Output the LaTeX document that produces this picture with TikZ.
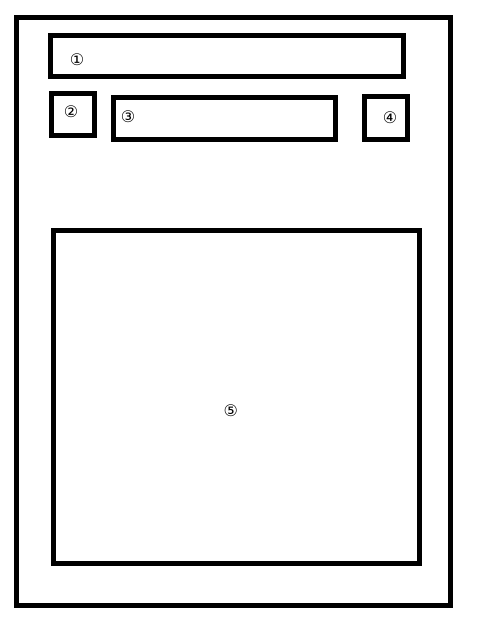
\documentclass[tikz,border=0pt]{standalone}
\usepackage{fontspec}
\newfontfamily\circfont{DejaVu Sans}
\tikzset{
    panel/.style={draw=black,line width=5pt},
    num/.style={font=\circfont\fontsize{16pt}{16pt}\selectfont,inner sep=0pt}
}

\begin{document}
\begin{tikzpicture}[x=1pt,y=-1pt]
        \useasboundingbox[fill=white] (0,0) rectangle (491,626);
        \draw[panel] (16.5,17.5) rectangle (450,605);
        \draw[panel] (50,36) rectangle (403,76.5);
        \draw[panel] (51.7,93.5) rectangle (94.3,135.7);
        \draw[panel] (113.5,97.7) rectangle (335,139);
        \draw[panel] (364.7,96.8) rectangle (407.5,139);
        \draw[panel] (53.3,230) rectangle (419,563);
        \node[num] (n1) at (77,60) {①};
        \node[num] (n2) at (71,111.7) {②};
        \node[num] (n3) at (128,117) {③};
        \node[num] (n4) at (390,118) {④};
        \node[num] (n5) at (230.7,411) {⑤};
    \end{tikzpicture}
\end{document}
